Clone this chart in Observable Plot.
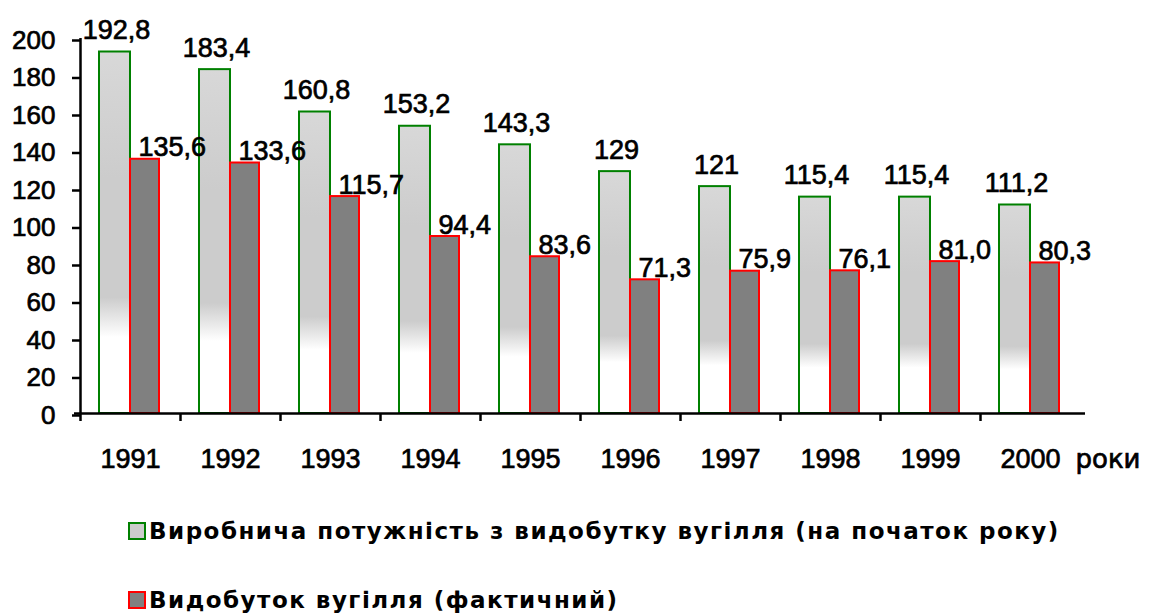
<!DOCTYPE html>
<html>
<head>
<meta charset="utf-8">
<script src="https://cdn.jsdelivr.net/npm/d3@7"></script>
<script src="https://cdn.jsdelivr.net/npm/@observablehq/plot@0.6"></script>
<style>
  body { margin: 0; background: #fff; font-family: "Liberation Sans", Arial, sans-serif; }
  #chart svg { display: block; overflow: visible; }
  #chart svg text { stroke: #000; stroke-width: 0.7px; paint-order: stroke; }
  #legend { font-family: "DejaVu Sans", sans-serif; font-size: 23px; font-weight: bold; letter-spacing: 1.5px; color: #000; margin-left: 128px; margin-top: 36px; }
  .row { display: flex; align-items: center; height: 30px; white-space: nowrap; }
  .row + .row { margin-top: 39px; }
  .sw { width: 14px; height: 14px; border: 2px solid; margin-right: 3px; flex: none; }
</style>
</head>
<body>
<svg width="0" height="0" style="position:absolute">
  <defs>
    <linearGradient id="capFill" x1="0" y1="0" x2="0" y2="1">
      <stop offset="0" stop-color="#d8d8d8"/>
      <stop offset="0.35" stop-color="#cccccc"/>
      <stop offset="0.68" stop-color="#cccccc"/>
      <stop offset="0.79" stop-color="#ffffff"/>
      <stop offset="1" stop-color="#ffffff"/>
    </linearGradient>
  </defs>
</svg>
<div id="chart"></div>
<div id="legend"></div>
<script>
// ---- data ----
const years = ["1991", "1992", "1993", "1994", "1995", "1996", "1997", "1998", "1999", "2000"];
const capacity = [192.8, 183.4, 160.8, 153.2, 143.3, 129, 121, 115.4, 115.4, 111.2];
const output = [135.6, 133.6, 115.7, 94.4, 83.6, 71.3, 75.9, 76.1, 81.0, 80.3];
const seriesNames = [
  "Виробнича потужність з видобутку вугілля (на початок року)",
  "Видобуток вугілля (фактичний)"
];
const yTicks = [0, 20, 40, 60, 80, 100, 120, 140, 160, 180, 200];
const xUnit = "роки";

const data = years.map((year, i) => ({year, capacity: capacity[i], output: output[i]}));
const fmtCap = v => Number.isInteger(v) ? String(v) : v.toFixed(1).replace(".", ",");
const fmtOut = v => v.toFixed(1).replace(".", ",");

const chart = Plot.plot({
  width: 1149,
  height: 480,
  marginLeft: 80,
  marginRight: 69,
  marginTop: 38,
  marginBottom: 67,
  style: {fontFamily: "'Liberation Sans', Arial, sans-serif", color: "#000", background: "#fff", overflow: "visible"},
  x: {domain: years, padding: 0, label: null},
  y: {domain: [0, 200], label: null},
  marks: [
    Plot.axisY(yTicks, {tickSize: 8, tickPadding: 17, fontSize: 26, strokeWidth: 2.5, dy: 2, label: null}),
    Plot.axisX({tickSize: 0, tickPadding: 35, fontSize: 27, label: null}),
    Plot.barY(data, {x: "year", y: "capacity", fill: "url(#capFill)", stroke: "#008000", strokeWidth: 2, insetLeft: 19, insetRight: 50}),
    Plot.barY(data, {x: "year", y: "output", fill: "#808080", stroke: "#ff0000", strokeWidth: 2, insetLeft: 50, insetRight: 21}),
    Plot.ruleY([0], {stroke: "#000", strokeWidth: 2.5, insetLeft: -6, insetRight: -5}),
    Plot.ruleX(years.slice(0, 1), {x: d => d, dx: -50, y1: 0, y2: 200, stroke: "#000", strokeWidth: 2.5}),
    Plot.ruleX(years, {x: d => d, dx: -50, y1: 0, y2: 0, insetBottom: -8, stroke: "#000", strokeWidth: 2.5}),
    Plot.text(data, {x: "year", y: "capacity", text: d => fmtCap(d.capacity), dx: -14, dy: -13, lineAnchor: "bottom", fontSize: 27, fill: "#000"}),
    Plot.text(data, {x: "year", y: "output", text: d => fmtOut(d.output), textAnchor: "start", dx: 8, dy: -3, lineAnchor: "bottom", fontSize: 27, fill: "#000"}),
    Plot.text([xUnit], {text: d => d, frameAnchor: "bottom-right", textAnchor: "start", dx: -5, dy: 46, lineAnchor: "middle", fontSize: 26, fontFamily: "DejaVu Sans", fill: "#000"})
  ]
});
document.getElementById("chart").append(chart);

const legendColors = [["#008000", "#cccccc"], ["#ff0000", "#808080"]];
const legend = document.getElementById("legend");
seriesNames.forEach((name, i) => {
  const row = document.createElement("div");
  row.className = "row";
  const sw = document.createElement("span");
  sw.className = "sw";
  sw.style.borderColor = legendColors[i][0];
  sw.style.background = legendColors[i][1];
  const t = document.createElement("span");
  t.textContent = name;
  row.append(sw, t);
  legend.append(row);
});
</script>
</body>
</html>
